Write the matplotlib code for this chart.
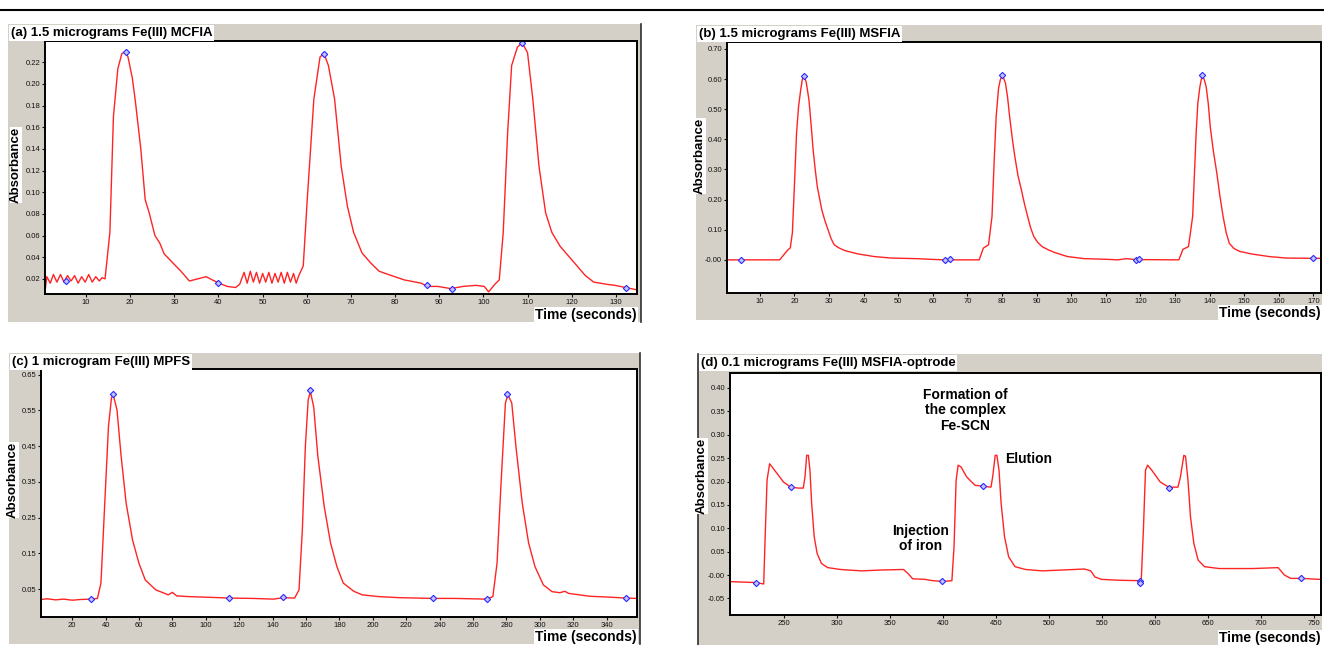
import matplotlib.pyplot as plt
from matplotlib.lines import Line2D

# ---- (a) 1.5 micrograms Fe(III) MCFIA ----
a_time = [0.7, 1.1, 1.9, 2.6, 3.4, 4.2, 5.0, 5.8, 6.6, 7.4, 8.2, 9.0, 9.8, 10.6, 11.4, 12.2, 13.0, 13.6, 14.3,
          15.4, 16.2, 17.2, 18.1, 18.9, 19.5, 20.5, 21.2, 22.4, 23.4, 24.3, 25.6, 26.7, 27.7, 29.6, 31.5,
          33.4, 35.3, 37.2, 38.6, 40.1, 42.0, 43.9, 44.8,
          45.8, 46.5, 47.2, 47.9, 48.6, 49.3, 50.0, 50.7, 51.4, 52.1, 52.8, 53.5, 54.2, 54.9, 55.6, 56.3, 57.0, 57.6, 58.2,
          59.2, 60.1, 61.6, 63.0, 63.9, 64.9, 66.3, 67.8, 69.2, 70.6, 72.5, 74.4, 76.4, 79.2, 82.1, 85.9,
          87.3, 89.7, 92.6, 95.4, 98.3, 100.2, 101.2, 102.6, 103.6, 104.5, 105.5, 106.4, 107.7, 108.8,
          110.0, 111.2, 112.6, 114.1, 115.5, 117.4, 119.3, 121.2, 123.1, 125.0, 127.9, 129.8, 132.2, 134.6]
a_abs = [0.008, 0.022, 0.016, 0.024, 0.017, 0.024, 0.017, 0.023, 0.018, 0.023, 0.016, 0.022, 0.017, 0.024, 0.017, 0.022, 0.018, 0.021, 0.020,
         0.063, 0.170, 0.214, 0.228, 0.230, 0.225, 0.205, 0.183, 0.140, 0.093, 0.081, 0.060, 0.053, 0.043, 0.035, 0.027,
         0.018, 0.020, 0.022, 0.019, 0.016, 0.013, 0.012, 0.015,
         0.026, 0.016, 0.027, 0.017, 0.026, 0.016, 0.025, 0.017, 0.026, 0.016, 0.025, 0.017, 0.026, 0.016, 0.026, 0.017, 0.025, 0.016, 0.023,
         0.032, 0.093, 0.186, 0.225, 0.228, 0.217, 0.186, 0.124, 0.087, 0.063, 0.044, 0.035, 0.027, 0.023, 0.019, 0.016,
         0.013, 0.013, 0.011, 0.013, 0.014, 0.013, 0.008, 0.015, 0.019, 0.063, 0.155, 0.217, 0.234, 0.238,
         0.229, 0.186, 0.124, 0.081, 0.063, 0.050, 0.041, 0.032, 0.023, 0.017, 0.015, 0.014, 0.012, 0.010]
a_mark_time = [5.5, 19.0, 39.9, 63.9, 87.3, 92.9, 108.8, 132.2]
a_mark_abs = [0.018, 0.230, 0.016, 0.228, 0.014, 0.011, 0.238, 0.012]
a_xticks = [10, 20, 30, 40, 50, 60, 70, 80, 90, 100, 110, 120, 130]
a_yticks = [0.02, 0.04, 0.06, 0.08, 0.10, 0.12, 0.14, 0.16, 0.18, 0.20, 0.22]
a_ylabels = ['0.02', '0.04', '0.06', '0.08', '0.10', '0.12', '0.14', '0.16', '0.18', '0.20', '0.22']

# ---- (b) 1.5 micrograms Fe(III) MSFIA ----
b_time = [0.5, 15.7, 16.8, 17.5, 18.1, 18.8, 19.4, 20.0, 20.6, 21.2, 21.8, 22.3, 22.8, 23.4, 24.2, 24.8, 25.4,
          26.0, 26.6, 27.9, 28.8, 29.7, 30.6, 31.5, 32.8, 34.5, 38.2, 43.0, 47.9, 55.2, 63.1, 73.4,
          74.6, 76.1, 77.1, 77.7, 78.3, 79.0, 79.5, 79.9, 80.4, 81.0, 81.6, 82.2, 83.0, 83.7, 84.6, 85.6,
          86.5, 87.4, 88.3, 89.2, 90.3, 91.6, 93.4, 95.3, 98.9, 103.8, 109.9, 113.5, 115.9, 118.4, 131.1,
          132.3, 133.9, 135.1, 135.6, 136.1, 136.6, 137.2, 137.8, 138.4, 139.0, 139.6, 140.2, 141.1, 142.1,
          143.0, 143.9, 144.8, 145.7, 147.0, 148.7, 152.4, 157.2, 162.1, 170.0, 172.2]
b_abs = [0.0, 0.0, 0.015, 0.025, 0.033, 0.040, 0.090, 0.250, 0.420, 0.510, 0.564, 0.600, 0.610, 0.590, 0.530, 0.450, 0.365,
         0.300, 0.243, 0.166, 0.130, 0.100, 0.070, 0.050, 0.040, 0.031, 0.020, 0.011, 0.006, 0.004, 0.0, 0.0,
         0.039, 0.050, 0.144, 0.320, 0.475, 0.570, 0.597, 0.610, 0.605, 0.586, 0.540, 0.475, 0.400, 0.343, 0.280, 0.232,
         0.185, 0.144, 0.105, 0.077, 0.058, 0.044, 0.033, 0.024, 0.011, 0.004, 0.002, 0.0, 0.004, 0.001, 0.0,
         0.035, 0.044, 0.144, 0.280, 0.420, 0.520, 0.575, 0.610, 0.600, 0.575, 0.520, 0.440, 0.360, 0.287,
         0.210, 0.144, 0.090, 0.055, 0.038, 0.028, 0.019, 0.011, 0.006, 0.005, 0.005]
b_mark_time = [4.5, 22.8, 63.5, 64.9, 79.9, 118.6, 119.6, 137.8, 170.0]
b_mark_abs = [0.0, 0.610, 0.0, 0.002, 0.612, -0.002, 0.004, 0.612, 0.005]
b_xticks = [10, 20, 30, 40, 50, 60, 70, 80, 90, 100, 110, 120, 130, 140, 150, 160, 170]
b_yticks = [0.0, 0.10, 0.20, 0.30, 0.40, 0.50, 0.60, 0.70]
b_ylabels = ['-0.00', '0.10', '0.20', '0.30', '0.40', '0.50', '0.60', '0.70']

# ---- (c) 1 microgram Fe(III) MPFS ----
c_time = [1.3, 5, 10, 15, 20, 25, 31.4, 35.1, 37.2, 39.2, 41.7, 43.5, 44.5, 46.8, 49.3, 52.3, 56.1, 59.9, 63.7,
          70.0, 77.5, 80.0, 82.6, 90.2, 102.8, 114.1, 128.0, 140.6, 146.2, 153.2, 155.8, 157.8, 159.6, 161.3,
          162.6, 164.6, 167.1, 170.9, 174.7, 178.5, 182.3, 188.6, 193.6, 203.7, 216.3, 236.0, 249.1, 268.1,
          271.9, 274.4, 276.9, 279.4, 280.9, 283.2, 285.7, 289.5, 293.3, 297.1, 302.1, 307.3, 312, 315, 317.3,
          329.9, 340, 351.4, 358.2]
c_abs = [0.021, 0.023, 0.020, 0.022, 0.019, 0.021, 0.022, 0.024, 0.067, 0.263, 0.505, 0.585, 0.594, 0.552, 0.421, 0.290, 0.188, 0.123, 0.076,
         0.048, 0.034, 0.041, 0.031, 0.029, 0.027, 0.025, 0.024, 0.022, 0.026, 0.025, 0.048, 0.216, 0.449, 0.580,
         0.603, 0.560, 0.421, 0.281, 0.179, 0.113, 0.067, 0.044, 0.034, 0.029, 0.026, 0.024, 0.024, 0.022,
         0.029, 0.123, 0.356, 0.571, 0.594, 0.571, 0.449, 0.290, 0.179, 0.113, 0.062, 0.043, 0.040, 0.044, 0.038,
         0.030, 0.028, 0.025, 0.024]
c_mark_time = [31.4, 44.2, 114.1, 146.2, 162.5, 236.0, 268.1, 280.6, 351.4]
c_mark_abs = [0.022, 0.597, 0.025, 0.027, 0.606, 0.024, 0.022, 0.597, 0.025]
c_xticks = [20, 40, 60, 80, 100, 120, 140, 160, 180, 200, 220, 240, 260, 280, 300, 320, 340]
c_yticks = [0.05, 0.15, 0.25, 0.35, 0.45, 0.55, 0.65]
c_ylabels = ['0.05', '0.15', '0.25', '0.35', '0.45', '0.55', '0.65']

# ---- (d) 0.1 micrograms Fe(III) MSFIA-optrode ----
d_time = [199.5, 223.4, 230.5, 232.1, 233.7, 236.1, 238.5, 243.2, 249.2, 256.0, 263.1, 267.9, 269.5, 271.1, 272.7,
          274.2, 275.8, 278.2, 281.0, 285.0, 290.9, 302.9, 322.7, 342.6, 362.5, 366.5, 371.2, 382.4, 390.3,
          399.0, 408.2, 410.2, 412.2, 414.1, 416.9, 422.1, 430.0, 438.0, 445.1, 446.7, 449.1, 450.7, 452.7,
          454.7, 457.9, 461.8, 467.8, 477.7, 493.6, 513.5, 533.4, 539.3, 543.3, 549.3, 565.2, 585.8, 587.0,
          589.0, 591.0, 593.0, 597.0, 604.9, 612.9, 621.6, 624.0, 627.2, 628.8, 631.1, 633.5, 636.7, 640.7,
          646.7, 660.6, 692.4, 716.2, 722.2, 728.1, 738.1, 754.0, 756.7]
d_abs = [-0.014, -0.016, -0.019, 0.096, 0.203, 0.238, 0.231, 0.217, 0.199, 0.188, 0.186, 0.186, 0.210, 0.256, 0.256,
         0.224, 0.153, 0.082, 0.046, 0.025, 0.016, 0.012, 0.009, 0.011, 0.012, 0.004, -0.008, -0.009, -0.012,
         -0.0135, -0.012, 0.060, 0.203, 0.235, 0.231, 0.210, 0.192, 0.190, 0.188, 0.210, 0.256, 0.256, 0.224,
         0.153, 0.082, 0.039, 0.018, 0.012, 0.009, 0.011, 0.013, 0.009, -0.004, -0.009, -0.011, -0.012, -0.011,
         0.096, 0.224, 0.235, 0.224, 0.199, 0.188, 0.188, 0.210, 0.256, 0.254, 0.203, 0.124, 0.067, 0.032,
         0.018, 0.014, 0.014, 0.016, 0.0, -0.007, -0.007, -0.009, -0.009]
d_mark_time = [223.4, 256.0, 399.0, 437.5, 585.8, 586.2, 613.5, 738.1]
d_mark_abs = [-0.016, 0.188, -0.0135, 0.190, -0.013, -0.016, 0.187, -0.007]
d_xticks = [250, 300, 350, 400, 450, 500, 550, 600, 650, 700, 750]
d_yticks = [-0.05, 0.0, 0.05, 0.10, 0.15, 0.20, 0.25, 0.30, 0.35, 0.40]
d_ylabels = ['-0.05', '-0.00', '0.05', '0.10', '0.15', '0.20', '0.25', '0.30', '0.35', '0.40']

W, H = 1324, 645
GRAY = '#d4d0c8'
FONT = ['Liberation Sans Narrow', 'Liberation Sans', 'DejaVu Sans']
plt.rcParams['font.family'] = FONT

fig = plt.figure(figsize=(W / 100, H / 100), dpi=100)
fig.patch.set_facecolor('white')


def rect(x0, y0, x1, y1):
    # pixel box (top-left origin) -> figure fraction
    return [x0 / W, 1 - y1 / H, (x1 - x0) / W, (y1 - y0) / H]


def panel(frame, plot, title, t, v, mt, mv, xlim, ylim, xticks, yticks, ylabels,
          ylab_pos, dark_edge):
    bg = fig.add_axes(rect(*frame))
    bg.set_facecolor(GRAY)
    bg.set_xticks([])
    bg.set_yticks([])
    for side, s in bg.spines.items():
        s.set_visible(side == dark_edge)
        s.set_color('#303030')
        s.set_linewidth(1.2)

    ax = fig.add_axes(rect(*plot))
    ax.set_facecolor('white')
    ax.plot(t, v, color='#ff2424', lw=1.0)
    ax.plot(mt, mv, 'D', ms=3.2, mfc='#c4c4ff', mec='#2a2aff', mew=0.8)
    ax.set_xlim(xlim)
    ax.set_ylim(ylim)
    ax.set_xticks(xticks)
    ax.set_xticklabels([str(x) for x in xticks])
    ax.set_yticks(yticks)
    ax.set_yticklabels(ylabels)
    ax.tick_params(length=2, width=0.8, pad=1.5, labelsize=5.5, colors='#111111')
    for s in ax.spines.values():
        s.set_color('black')
        s.set_linewidth(1.4)

    # title on white strip at top-left of grey bar
    fig.text((frame[0] + 3) / W, 1 - (frame[1] + 9) / H, title, ha='left', va='center',
             fontsize=9.5, fontweight='bold',
             bbox=dict(boxstyle='square,pad=0.12', fc='white', ec='none'))
    fig.text(ylab_pos[0] / W, 1 - ylab_pos[1] / H, 'Absorbance', rotation=90,
             ha='center', va='center', fontsize=9.5, fontweight='bold',
             bbox=dict(boxstyle='square,pad=0.02', fc='white', ec='none'))
    fig.text(plot[2] / W, 1 - (frame[3] - 7) / H, 'Time (seconds)', ha='right', va='center',
             fontsize=10, fontweight='bold',
             bbox=dict(boxstyle='square,pad=0.1', fc='white', ec='none'))
    return ax


panel((8, 24, 641, 322), (45, 41, 637, 294), '(a) 1.5 micrograms Fe(III) MCFIA',
      a_time, a_abs, a_mark_time, a_mark_abs, (0.7, 134.8), (0.006, 0.2397),
      a_xticks, a_yticks, a_ylabels, (16, 165), 'right')
panel((696, 25, 1322, 320), (727, 42, 1321, 293), '(b) 1.5 micrograms Fe(III) MSFIA',
      b_time, b_abs, b_mark_time, b_mark_abs, (0.5, 172.2), (-0.11, 0.723),
      b_xticks, b_yticks, b_ylabels, (700, 156), 'none')
panel((9, 353, 640, 644), (41, 369, 637, 617), '(c) 1 microgram Fe(III) MPFS',
      c_time, c_abs, c_mark_time, c_mark_abs, (1.3, 358.2), (-0.028, 0.666),
      c_xticks, c_yticks, c_ylabels, (13, 480), 'right')
ax_d = panel((698, 354, 1322, 645), (730, 373, 1321, 615), '(d) 0.1 micrograms Fe(III) MSFIA-optrode',
             d_time, d_abs, d_mark_time, d_mark_abs, (198.7, 756.7), (-0.0853, 0.432),
             d_xticks, d_yticks, d_ylabels, (702, 476), 'left')

ax_d.text(421, 0.352, 'Formation of\nthe complex\nFe-SCN', ha='center', va='center',
          fontsize=10, fontweight='bold', linespacing=1.15)
ax_d.text(458, 0.249, 'Elution', ha='left', va='center', fontsize=10, fontweight='bold')
ax_d.text(379, 0.078, 'Injection\nof iron', ha='center', va='center',
          fontsize=10, fontweight='bold', linespacing=1.15)

# black rule across the top
fig.add_artist(Line2D([0, 1], [1 - 10 / H, 1 - 10 / H], color='black', lw=1.5))

fig.savefig('out.png', dpi=100)
